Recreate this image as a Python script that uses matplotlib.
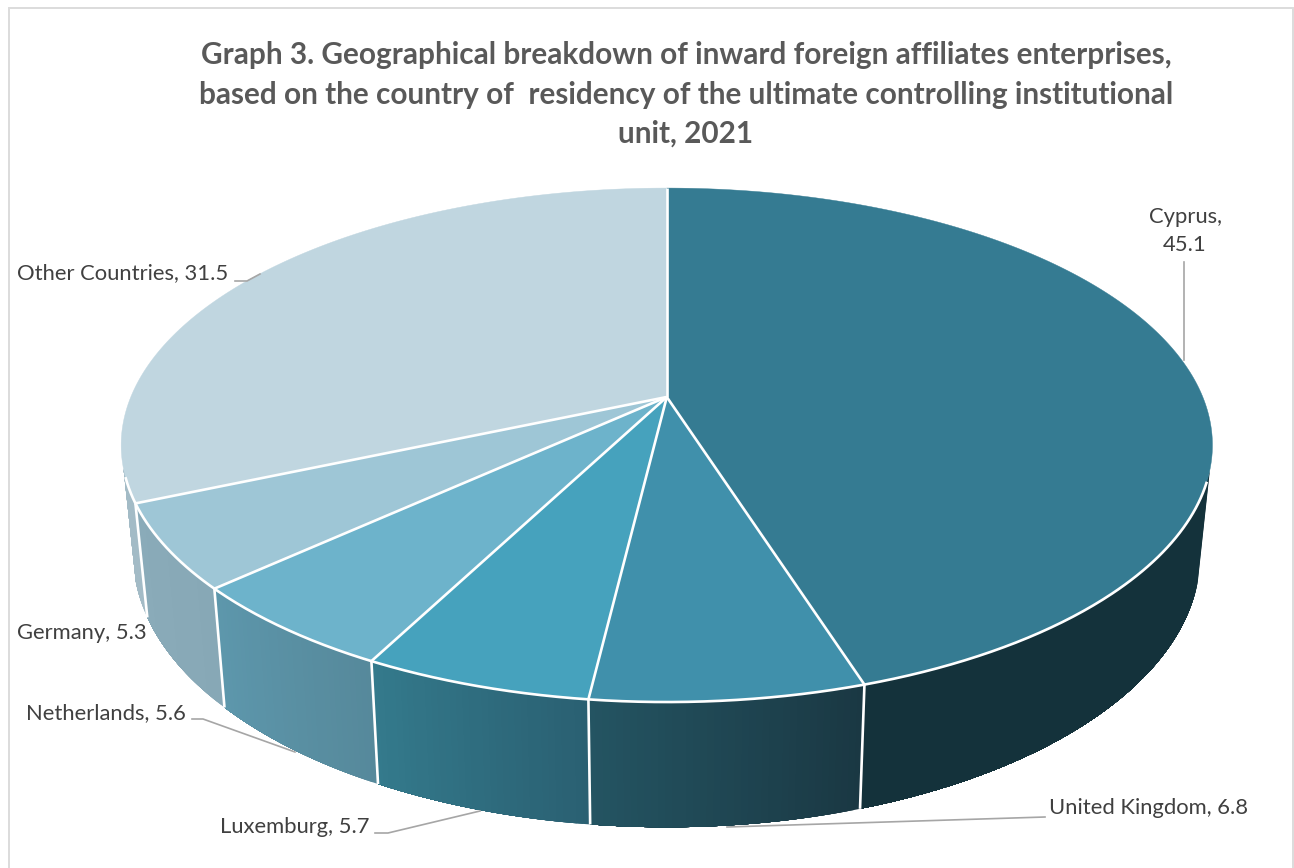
import numpy as np
import matplotlib
matplotlib.use("Agg")
import matplotlib.pyplot as plt
from matplotlib.colors import to_rgb
from matplotlib.patches import Rectangle

# ---- data ----
categories = ["Cyprus", "United Kingdom", "Luxemburg", "Netherlands", "Germany", "Other Countries"]
values = [45.1, 6.8, 5.7, 5.6, 5.3, 31.5]
title_lines = ["Graph 3. Geographical breakdown of inward foreign affiliates enterprises,",
               "based on the country of  residency of the ultimate controlling institutional",
               "unit, 2021"]

# ---- style ----
top_colors = ["#357b92", "#4090ab", "#46a2bd", "#6db3cb", "#9ec6d6", "#c0d6e0"]
wall_start = ["#14323b", "#1a3843", "#2a6072", "#56899b", "#87a8b6", "#a3bbc6"]
wall_end = ["#14323b", "#245462", "#347a8c", "#5d97ac", "#8aabb9", "#a3bbc6"]
FONT = "Lato"
TITLE_SIZE = 21.4
LABEL_SIZE = 15.85

# perspective disc projection (pixel space)
K = 0.187
TOP = dict(cx=666.8, cy=397.0, a=536.0, b=248.0)
BASE = dict(cx=666.8, cy=505.0, a=524.0, b=262.0)


def project(theta, p):
    u, v = np.sin(theta), np.cos(theta)
    d = 1 + K * v
    return p["cx"] + p["a"] * u / d, p["cy"] - p["b"] * v / d


fig = plt.figure(figsize=(12.94, 8.68), dpi=100)
ax = fig.add_axes([0, 0, 1, 1])
ax.set_xlim(0, 1294)
ax.set_ylim(868, 0)
ax.axis("off")

ax.add_patch(Rectangle((9, 8), 1284, 870, fc="white", ec="#dcdcdc", lw=1.4, zorder=0))

edges = np.radians(np.concatenate([[0], np.cumsum(values)]) / sum(values) * 360)
VIS0, VIS1 = np.radians(106), np.radians(254)
RIM0, RIM1 = np.radians(109), np.radians(252)

# walls, drawn as thin overlapping strips so the shading varies along each slice
for i in range(len(values)):
    t0, t1 = max(edges[i], VIS0), min(edges[i + 1], VIS1)
    if t1 <= t0:
        continue
    n = max(2, int((t1 - t0) / np.radians(0.6)))
    ts = np.linspace(t0, t1, n + 1)
    c0, c1 = np.array(to_rgb(wall_start[i])), np.array(to_rgb(wall_end[i]))
    for j in range(n):
        f = j / max(n - 1, 1)
        col = c0 + (c1 - c0) * f
        # every strip reaches to the end of the slice; the next one paints over it
        seg = np.linspace(ts[j], t1, max(2, n - j + 1))
        xa, ya = project(seg, TOP)
        xb, yb = project(seg, BASE)
        ax.fill(np.r_[xa, xb[::-1]], np.r_[ya, yb[::-1]], fc=col, ec="none", zorder=2)

# white separators on the wall
for t in edges[1:-1]:
    xa, ya = project(t, TOP)
    xb, yb = project(t, BASE)
    ax.plot([xa, xb], [ya, yb], color="white", lw=1.9, zorder=3, solid_capstyle="butt")

# top surface
for i in range(len(values)):
    ts = np.linspace(edges[i], edges[i + 1], 300)
    x, y = project(ts, TOP)
    ax.fill(np.r_[TOP["cx"], x], np.r_[TOP["cy"], y], fc=top_colors[i], ec=top_colors[i], lw=0.3, zorder=4)

# front rim and radial separators
ts = np.linspace(RIM0, RIM1, 400)
x, y = project(ts, TOP)
ax.plot(x, y, color="white", lw=1.9, zorder=5)
for t in edges[:-1]:
    x, y = project(t, TOP)
    ax.plot([TOP["cx"], x], [TOP["cy"], y], color="white", lw=1.9, zorder=6, solid_capstyle="butt")

# leader lines
leaders = [[(1184, 262), (1184, 360)],
           [(727, 827), (1045, 817)],
           [(375, 833), (388, 833), (480, 811)],
           [(192, 719), (203, 719), (295, 752)],
           [(235, 281), (247, 281), (260, 274)]]
for pts in leaders:
    px, py = zip(*pts)
    ax.plot(px, py, color="#a6a6a6", lw=1.2, zorder=7)

# data labels
label_pos = {"Cyprus": (1185, 231, "center"), "United Kingdom": (1049, 808, "left"),
             "Luxemburg": (220, 827, "left"), "Netherlands": (26, 713, "left"),
             "Germany": (17, 633, "left"), "Other Countries": (17, 273, "left")}
for name, val in zip(categories, values):
    lx, ly, ha = label_pos[name]
    s = f"{name},\n{val}" if name == "Cyprus" else f"{name}, {val}"
    ax.text(lx, ly, s, family=FONT, fontsize=LABEL_SIZE, color="#404040", ha=ha, va="center",
            linespacing=1.55, zorder=8)

for line, ty in zip(title_lines, [55, 95, 134]):
    ax.text(686, ty, line, family=FONT, fontsize=TITLE_SIZE, fontweight="bold",
            color="#595959", ha="center", va="center", zorder=8)

fig.savefig("out.png", dpi=100)
